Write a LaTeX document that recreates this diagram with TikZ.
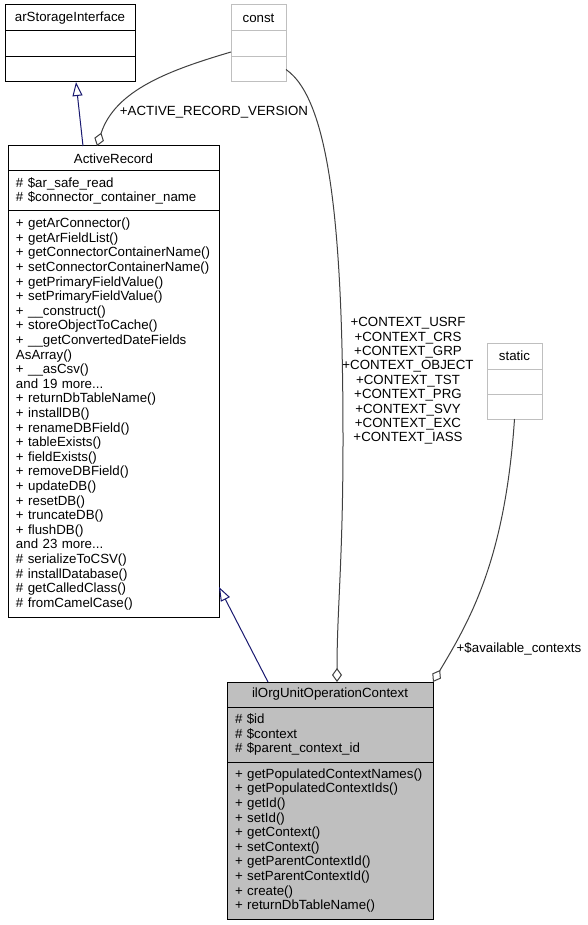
\documentclass[tikz,border=0pt]{standalone}
\usepackage{fontspec}
\setmainfont{Liberation Sans}
\usepackage{xcolor}
\usepackage{tikz}
\usetikzlibrary{shapes,arrows.meta,positioning,calc}
\definecolor{inhblue}{HTML}{191970}
\definecolor{edgegray}{HTML}{404040}
\hyphenpenalty=10000

\begin{document}
\begin{tikzpicture}[
      x=1pt,y=-1pt,
      font=\fontsize{13.3}{14.6}\selectfont,
      classbox/.style={
        rectangle,
        draw=black,
        fill=white,
        line width=1pt,
        outer sep=0pt,
        inner xsep=8pt,
        inner ysep=3pt,
        anchor=north
      },
      classtitle/.style={classbox,align=center},
      classpart/.style={classbox,align=left},
      extbox/.style={draw=gray!50},
      inherit/.style={-{Triangle[open,length=14pt,width=10pt]},line width=1pt,draw=inhblue},
      aggr/.style={-{Diamond[open,length=14pt,width=10pt]},line width=1pt,draw=edgegray},
      edgelabel/.style={align=center,inner sep=0pt,font=\fontsize{13.3}{14.4}\selectfont}
    ]
    \path[use as bounding box,fill=white] (0,0) rectangle (587,925);

    % Base interface
    \node[classtitle,minimum width=130pt,minimum height=26pt] (arsi) at (70,5) {arStorageInterface};
    \node[classpart,minimum width=130pt,minimum height=26pt,below=0pt of arsi] (arsiattr) {};
    \node[classpart,minimum width=130pt,minimum height=25pt,below=0pt of arsiattr] (arsiops) {};

    % const
    \node[classtitle,extbox,minimum width=55pt,minimum height=26pt] (const) at (258.5,5) {const};
    \node[classpart,extbox,minimum width=55pt,minimum height=26pt,below=0pt of const] (constattr) {};
    \node[classpart,extbox,minimum width=55pt,minimum height=25pt,below=0pt of constattr] (constops) {};

    % ActiveRecord
    \node[classtitle,minimum width=211pt,minimum height=25pt] (ar) at (113.5,146) {ActiveRecord};
    \node[classpart,text width=195pt,minimum height=40pt,below=0pt of ar] (arattr) {\# \$ar\_safe\_read\\\# \$connector\_container\_name};
    \node[classpart,text width=195pt,minimum height=406pt,below=0pt of arattr] (arops) {%
      + getArConnector()\\
      + getArFieldList()\\
      + getConnectorContainerName()\\
      + setConnectorContainerName()\\
      + getPrimaryFieldValue()\\
      + setPrimaryFieldValue()\\
      + \_\_construct()\\
      + storeObjectToCache()\\
      + \_\_getConvertedDateFields\\
      AsArray()\\
      + \_\_asCsv()\\
      and 19 more...\\
      + returnDbTableName()\\
      + installDB()\\
      + renameDBField()\\
      + tableExists()\\
      + fieldExists()\\
      + removeDBField()\\
      + updateDB()\\
      + resetDB()\\
      + truncateDB()\\
      + flushDB()\\
      and 23 more...\\
      \# serializeToCSV()\\
      \# installDatabase()\\
      \# getCalledClass()\\
      \# fromCamelCase()};

    % static
    \node[classtitle,extbox,minimum width=55pt,minimum height=26pt] (static) at (514.5,343) {static};
    \node[classpart,extbox,minimum width=55pt,minimum height=25pt,below=0pt of static] (staticattr) {};
    \node[classpart,extbox,minimum width=55pt,minimum height=25pt,below=0pt of staticattr] (staticops) {};

    % ilOrgUnitOperationContext
    \node[classtitle,fill=gray!50,minimum width=206pt,minimum height=25pt] (ilorg) at (330,682) {ilOrgUnitOperationContext};
    \node[classpart,fill=gray!50,text width=190pt,minimum height=55pt,below=0pt of ilorg] (ilorgattr) {\# \$id\\\# \$context\\\# \$parent\_context\_id};
    \node[classpart,fill=gray!50,text width=190pt,minimum height=157pt,below=0pt of ilorgattr] (ilorgops) {%
      + getPopulatedContextNames()\\
      + getPopulatedContextIds()\\
      + getId()\\
      + setId()\\
      + getContext()\\
      + setContext()\\
      + getParentContextId()\\
      + setParentContextId()\\
      + create()\\
      + returnDbTableName()};

    % Inheritance
    \draw[inherit] ([xshift=75pt]ar.north west) -- ([xshift=71pt]arsiops.south west);
    \draw[inherit] ([xshift=41pt]ilorg.north west) -- ([yshift=30pt]arops.south east);

    % Members
    \draw[aggr] ([yshift=-8pt]constattr.west) .. controls (170,70) and (115,90) .. ([xshift=89pt]ar.north west);
    \draw[aggr] (constops.east) .. controls (330,100) and (343,230) .. (343,440)
      .. controls (343,560) and (337,610) .. ([xshift=110pt]ilorg.north west);
    \draw[aggr] (staticops.south) .. controls (505,560) and (470,620) .. (ilorg.north east);

    \node[edgelabel] (arverlabel) at (214,112) {+ACTIVE\_RECORD\_VERSION};
    \node[edgelabel] (ctxlabel) at (408,381) {+CONTEXT\_USRF\\+CONTEXT\_CRS\\+CONTEXT\_GRP\\+CONTEXT\_OBJECT\\+CONTEXT\_TST\\+CONTEXT\_PRG\\+CONTEXT\_SVY\\+CONTEXT\_EXC\\+CONTEXT\_IASS};
    \node[edgelabel] (availlabel) at (519,649) {+\$available\_contexts};
  \end{tikzpicture}
\end{document}
